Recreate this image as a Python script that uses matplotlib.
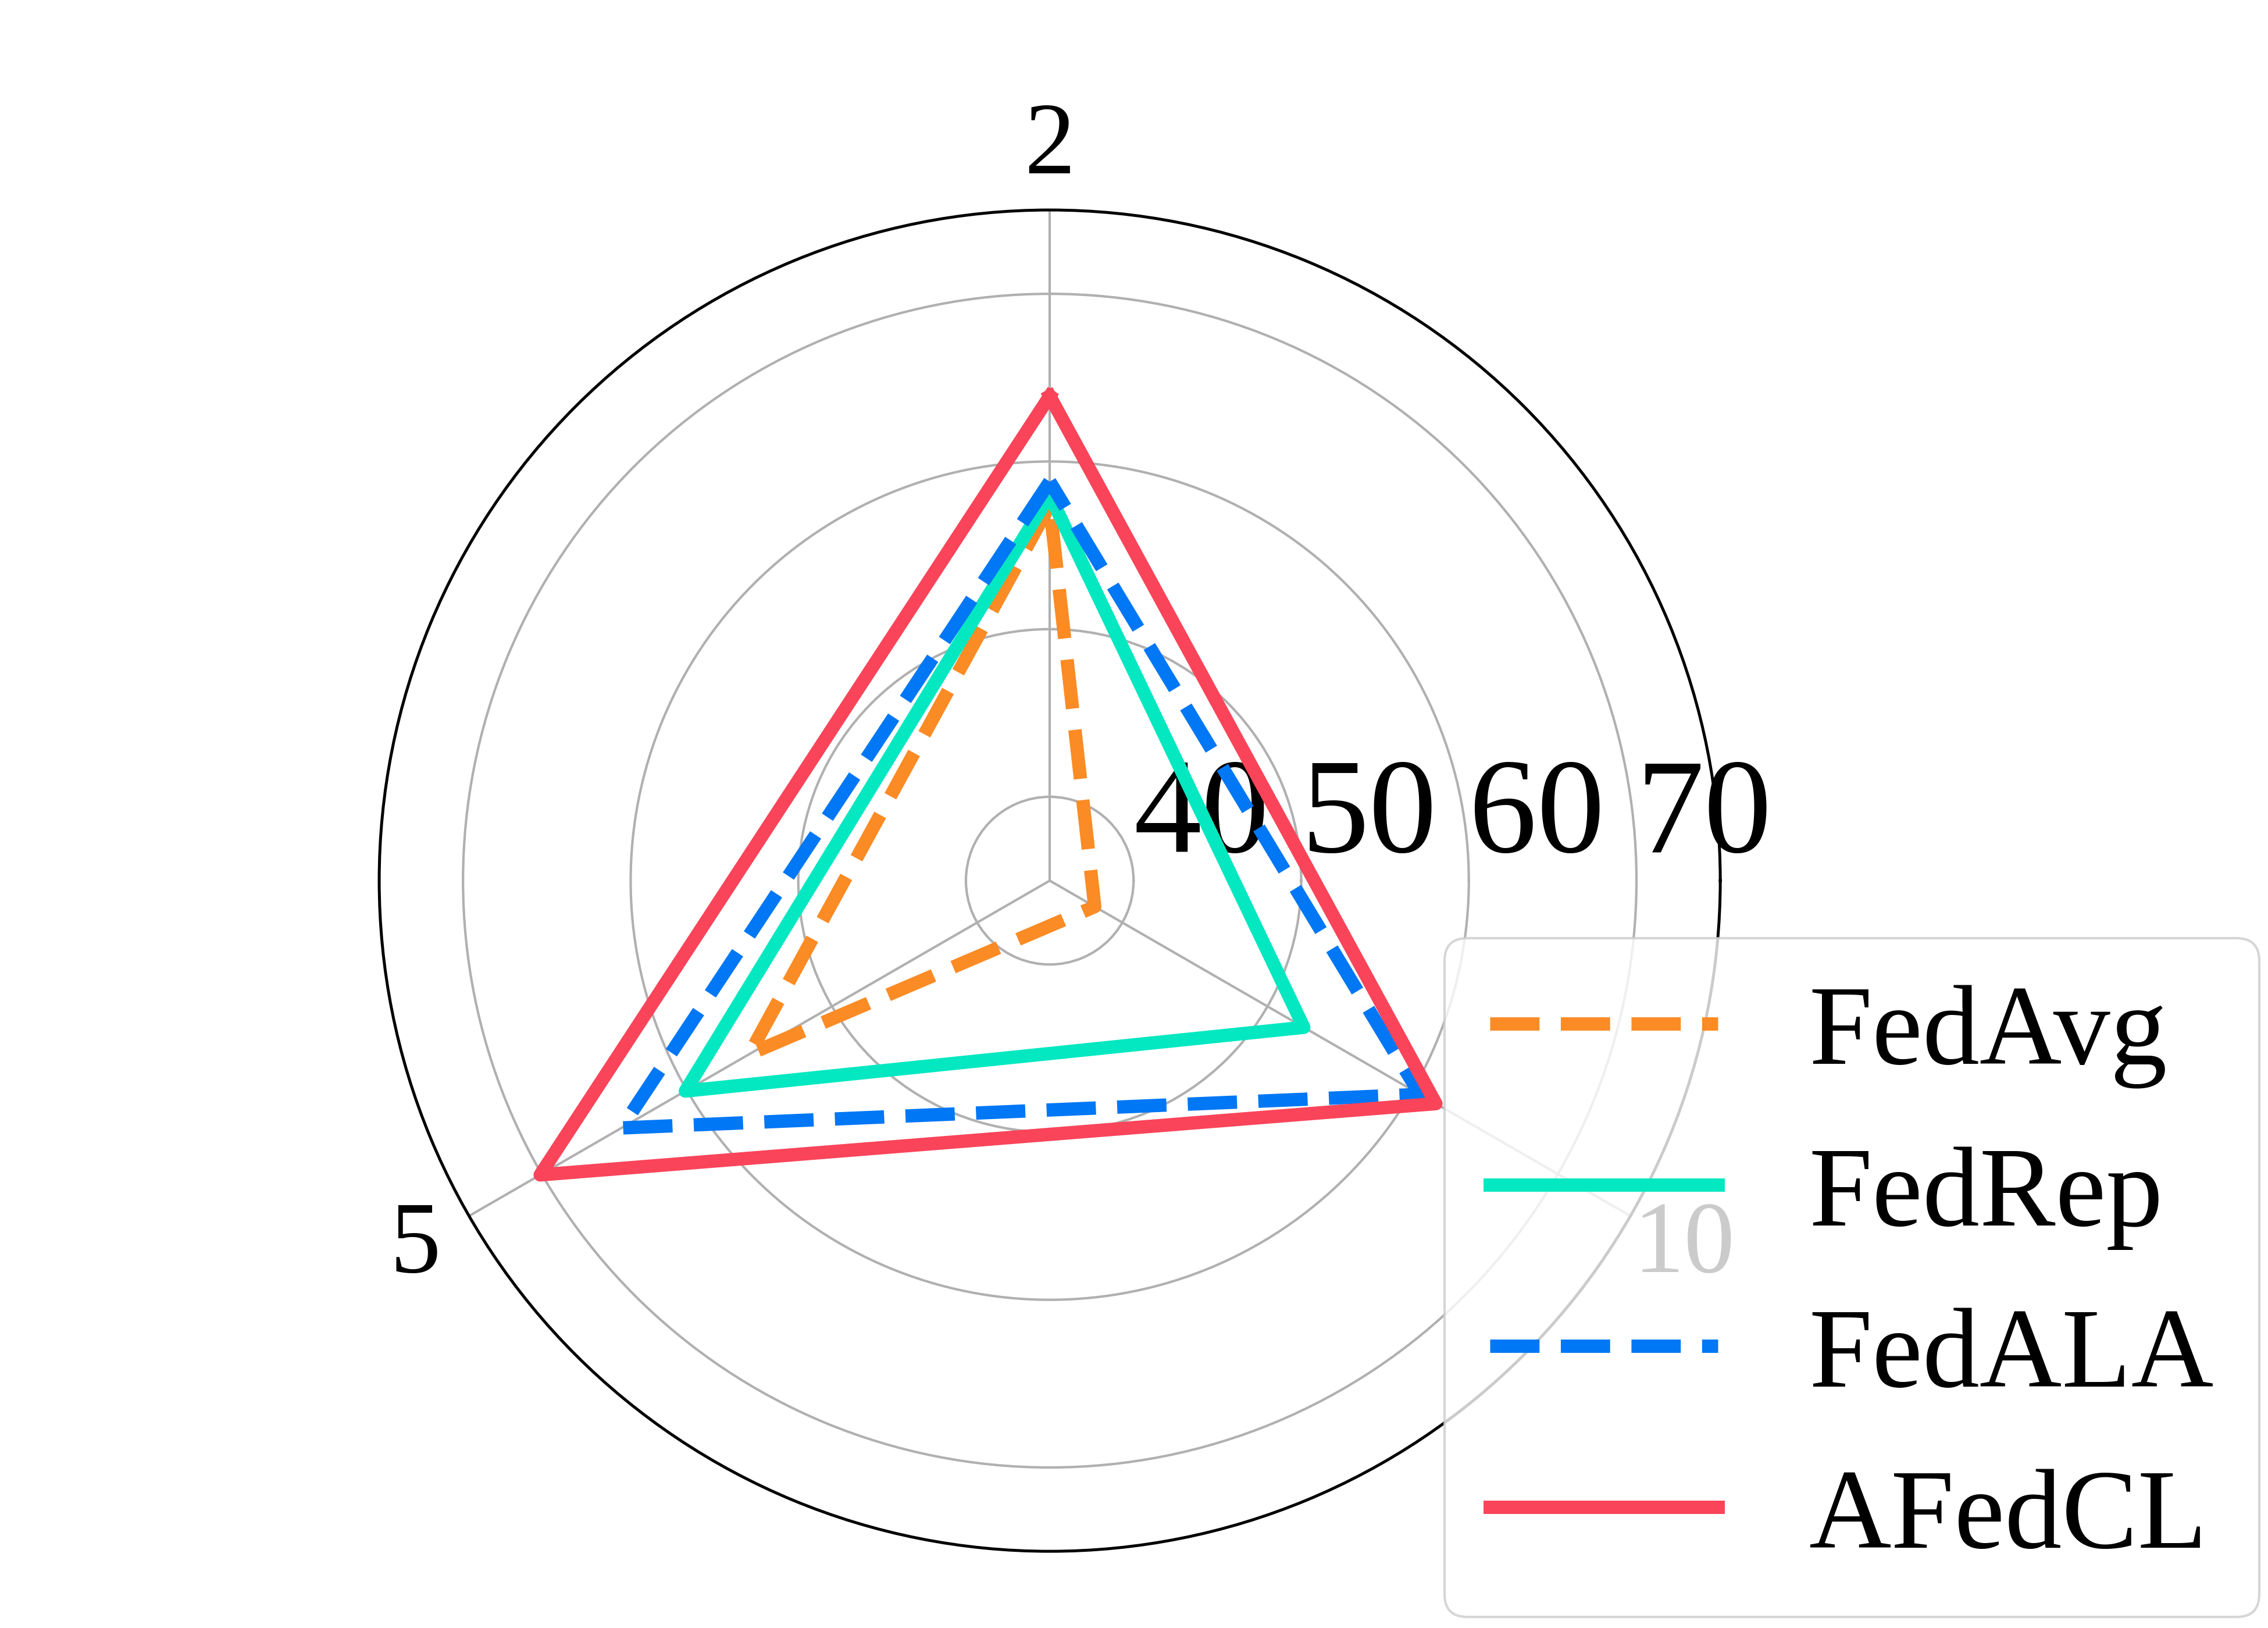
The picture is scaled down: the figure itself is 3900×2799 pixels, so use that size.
import numpy as np
import matplotlib
matplotlib.use('Agg')
import matplotlib.pyplot as plt

plt.rcParams['font.family'] = ['Liberation Serif', 'DejaVu Serif']

# --- data (accuracy, %) ---
axis_labels = ['2', '5', '10']
methods = ['FedAvg', 'FedRep', 'FedALA', 'AFedCL']
fedavg = [57.4, 55.7, 38.1]
fedrep = [58.0, 60.1, 52.5]
fedala = [58.8, 64.5, 60.5]
afedcl = [63.9, 70.1, 61.6]
r_ticks = [40, 50, 60, 70]
r_lim = (35, 75)

colors = ['#FB8B24', '#04E8C1', '#0077F5', '#FA4459']
styles = ['--', '-', '--', '-']

angles_deg = [90, 210, 330]
angles = np.deg2rad(angles_deg + angles_deg[:1])

fig = plt.figure(figsize=(13, 9.3333), dpi=300)
ax = fig.add_axes([0.1672, 0.0471, 0.5913, 0.8236], polar=True)

for name, vals, c, ls in zip(methods, [fedavg, fedrep, fedala, afedcl],
                             colors, styles):
    ax.plot(angles, vals + vals[:1], color=c, linestyle=ls, linewidth=5.5,
            label=name)

ax.set_ylim(*r_lim)
ax.set_rgrids(r_ticks, [str(t) for t in r_ticks], fontsize=56)
ax.set_rlabel_position(0)
ax.set_thetagrids(angles_deg, axis_labels, fontsize=42)
ax.tick_params(axis='x', pad=15)
ax.grid(color='#b0b0b0', linewidth=1.0)
ax.spines['polar'].set_linewidth(1.2)

ax.legend(loc='lower right', bbox_to_anchor=(0.9962, 0.0068),
          bbox_transform=fig.transFigure, borderaxespad=0, fontsize=47,
          labelspacing=0.5)

fig.savefig('out.png', dpi=300)
